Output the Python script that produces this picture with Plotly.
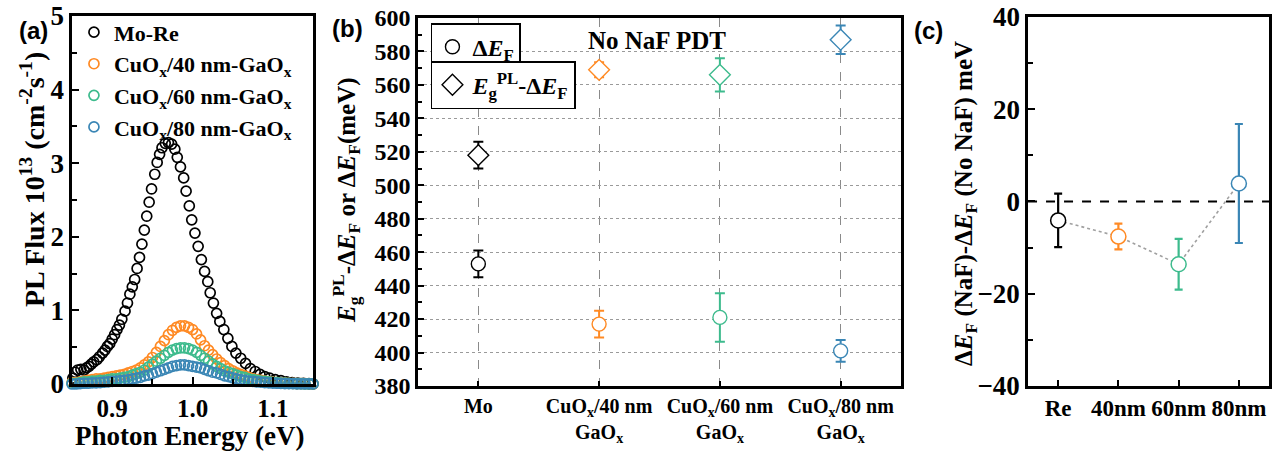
import plotly.graph_objects as go

# ---------------- Panel (a): PL spectra ----------------
moRe_E = [0.851, 0.854, 0.857, 0.861, 0.865, 0.868, 0.871, 0.874, 0.877, 0.881,
          0.884, 0.888, 0.891, 0.894, 0.897, 0.900, 0.903, 0.906, 0.909, 0.912,
          0.916, 0.919, 0.922, 0.925, 0.928, 0.931, 0.934, 0.937, 0.940, 0.943,
          0.946, 0.949, 0.953, 0.956, 0.959, 0.962, 0.966, 0.970, 0.974, 0.978,
          0.981, 0.985, 0.989, 0.992, 0.996, 0.999, 1.003, 1.007, 1.011, 1.015,
          1.019, 1.022, 1.026, 1.030, 1.034, 1.039, 1.044, 1.049, 1.054, 1.060,
          1.066, 1.072, 1.078, 1.084, 1.090, 1.096, 1.103, 1.110, 1.117, 1.124,
          1.131, 1.138, 1.145, 1.150]
moRe_PL = [0.08, 0.16, 0.19, 0.20, 0.19, 0.22, 0.24, 0.27, 0.30, 0.33,
           0.37, 0.42, 0.46, 0.51, 0.55, 0.61, 0.67, 0.74, 0.80, 0.88,
           0.99, 1.10, 1.22, 1.32, 1.42, 1.57, 1.72, 1.90, 2.09, 2.28,
           2.47, 2.65, 2.85, 3.01, 3.12, 3.21, 3.27, 3.28, 3.26, 3.19,
           3.08, 2.95, 2.80, 2.62, 2.42, 2.23, 2.05, 1.87, 1.69, 1.53,
           1.39, 1.24, 1.10, 0.96, 0.85, 0.74, 0.62, 0.51, 0.42, 0.35,
           0.28, 0.21, 0.17, 0.13, 0.10, 0.08, 0.06, 0.045, 0.03, 0.02,
           0.012, 0.008, 0.005, 0.003]

cu_E = [0.850, 0.855, 0.860, 0.865, 0.870, 0.875, 0.880, 0.885, 0.890, 0.895,
        0.900, 0.905, 0.910, 0.915, 0.920, 0.925, 0.930, 0.935, 0.940, 0.945,
        0.950, 0.955, 0.960, 0.965, 0.970, 0.975, 0.980, 0.985, 0.990, 0.995,
        1.000, 1.005, 1.010, 1.015, 1.020, 1.025, 1.030, 1.035, 1.040, 1.045,
        1.050, 1.055, 1.060, 1.065, 1.070, 1.075, 1.080, 1.085, 1.090, 1.095,
        1.100, 1.105, 1.110, 1.115, 1.120, 1.125, 1.130, 1.135, 1.140, 1.145,
        1.150]
cu40_PL = [0.02, 0.02, 0.03, 0.04, 0.05, 0.06, 0.07, 0.07, 0.08, 0.09,
           0.10, 0.11, 0.12, 0.13, 0.15, 0.17, 0.19, 0.22, 0.26, 0.30,
           0.36, 0.43, 0.51, 0.59, 0.67, 0.73, 0.77, 0.79, 0.79, 0.77,
           0.74, 0.68, 0.60, 0.52, 0.46, 0.40, 0.34, 0.29, 0.25, 0.21,
           0.18, 0.15, 0.13, 0.11, 0.09, 0.07, 0.06, 0.05, 0.04, 0.03,
           0.025, 0.02, 0.015, 0.012, 0.01, 0.008, 0.006, 0.005, 0.004, 0.003,
           0.002]
cu60_PL = [0.01, 0.01, 0.02, 0.03, 0.03, 0.04, 0.04, 0.05, 0.05, 0.06,
           0.07, 0.07, 0.08, 0.09, 0.10, 0.12, 0.14, 0.16, 0.19, 0.23,
           0.27, 0.31, 0.35, 0.39, 0.43, 0.46, 0.48, 0.49, 0.49, 0.48,
           0.46, 0.43, 0.39, 0.35, 0.31, 0.27, 0.24, 0.21, 0.18, 0.16,
           0.14, 0.12, 0.10, 0.09, 0.07, 0.06, 0.05, 0.04, 0.035, 0.03,
           0.022, 0.018, 0.014, 0.011, 0.009, 0.007, 0.005, 0.004, 0.003, 0.002,
           0.002]
cu80_PL = [0.00, 0.00, 0.005, 0.01, 0.01, 0.015, 0.015, 0.02, 0.025, 0.03,
           0.035, 0.04, 0.045, 0.05, 0.06, 0.07, 0.08, 0.09, 0.11, 0.12,
           0.14, 0.16, 0.18, 0.20, 0.22, 0.24, 0.25, 0.26, 0.26, 0.25,
           0.24, 0.23, 0.22, 0.20, 0.18, 0.16, 0.15, 0.13, 0.11, 0.10,
           0.085, 0.07, 0.06, 0.05, 0.04, 0.035, 0.03, 0.025, 0.02, 0.015,
           0.012, 0.01, 0.008, 0.006, 0.005, 0.004, 0.003, 0.002, 0.002, 0.001,
           0.001]
a_names = ["Mo-Re", "CuO<sub>x</sub>/40 nm-GaO<sub>x</sub>",
           "CuO<sub>x</sub>/60 nm-GaO<sub>x</sub>", "CuO<sub>x</sub>/80 nm-GaO<sub>x</sub>"]

# ---------------- Panel (b) ----------------
b_cats = ["Mo", "CuO<sub>x</sub>/40 nm<br>GaO<sub>x</sub>",
          "CuO<sub>x</sub>/60 nm<br>GaO<sub>x</sub>", "CuO<sub>x</sub>/80 nm<br>GaO<sub>x</sub>"]
dEF = [453, 417, 421, 401]
dEF_err = [8, 8, 14.5, 6.5]
Eg_dEF = [518, 569, 566, 587]
Eg_dEF_err = [8, 4.5, 10, 8.5]

# ---------------- Panel (c) ----------------
c_cats = ["Re", "40nm", "60nm", "80nm"]
ddEF = [-4.1, -7.6, -13.6, 3.9]
ddEF_err = [5.8, 2.8, 5.5, 12.9]

colors = ["#000000", "#ff8a24", "#3dbb8d", "#3a86b5"]

SERIF = "Liberation Serif"
SANS = "Liberation Sans"

fig = go.Figure()

# Panel (a) traces
a_y = [moRe_PL, cu40_PL, cu60_PL, cu80_PL]
a_x = [moRe_E, cu_E, cu_E, cu_E]
for i in range(4):
    fig.add_trace(go.Scatter(
        x=a_x[i], y=a_y[i], mode="markers", name=a_names[i],
        marker=dict(symbol="circle-open", size=10, color=colors[i], line=dict(width=1.7)),
        cliponaxis=False, xaxis="x", yaxis="y", legend="legend"))

# Panel (b) traces
for i in range(4):
    fig.add_trace(go.Scatter(
        x=[b_cats[i]], y=[dEF[i]], mode="markers", showlegend=False,
        error_y=dict(type="data", array=[dEF_err[i]], color=colors[i], thickness=2, width=5),
        marker=dict(symbol="circle", size=14, color="white", line=dict(width=1.4, color=colors[i])),
        xaxis="x2", yaxis="y2"))
    fig.add_trace(go.Scatter(
        x=[b_cats[i]], y=[Eg_dEF[i]], mode="markers", showlegend=False,
        error_y=dict(type="data", array=[Eg_dEF_err[i]], color=colors[i], thickness=2, width=5),
        marker=dict(symbol="diamond", size=16, color="white", line=dict(width=1.4, color=colors[i])),
        xaxis="x2", yaxis="y2"))
fig.add_trace(go.Scatter(
    x=[None], y=[None], mode="markers", name="Δ<i>E</i><sub>F</sub>",
    marker=dict(symbol="circle-open", size=14, color="black", line=dict(width=1.4)),
    xaxis="x2", yaxis="y2", legend="legend2"))
fig.add_trace(go.Scatter(
    x=[None], y=[None], mode="markers", name="<i>E</i><sub>g</sub><sup>PL</sup>-Δ<i>E</i><sub>F</sub>",
    marker=dict(symbol="diamond-open", size=16, color="black", line=dict(width=1.4)),
    xaxis="x2", yaxis="y2", legend="legend3"))

# Panel (c) traces
fig.add_trace(go.Scatter(
    x=c_cats, y=ddEF, mode="lines", showlegend=False,
    line=dict(color="#a0a0a0", width=1.6, dash="dot"), xaxis="x3", yaxis="y3"))
for i in range(4):
    fig.add_trace(go.Scatter(
        x=[c_cats[i]], y=[ddEF[i]], mode="markers", showlegend=False,
        error_y=dict(type="data", array=[ddEF_err[i]], color=colors[i], thickness=2.2, width=4),
        marker=dict(symbol="circle", size=15, color="white", line=dict(width=1.5, color=colors[i])),
        xaxis="x3", yaxis="y3"))

fig.add_shape(type="line", xref="x3 domain", yref="y3", x0=0, x1=1, y0=0, y1=0,
              line=dict(color="black", width=2.2, dash="dash"), layer="below")

axis_common = dict(showline=True, linewidth=2.5, linecolor="black", mirror=True,
                   ticks="inside", tickwidth=2, tickcolor="black", zeroline=False,
                   showgrid=False, automargin=False)

fig.update_layout(
    width=1275, height=453, margin=dict(l=0, r=0, t=0, b=0, autoexpand=False),
    paper_bgcolor="white", plot_bgcolor="white",
    font=dict(family=SERIF, color="black", weight="bold"),
    xaxis=dict(domain=[0.0565, 0.2455], range=[0.85, 1.15], anchor="y",
               tickvals=[0.9, 1.0, 1.1], ticktext=["0.9", "1.0", "1.1"], ticklen=7,
               ticklabelstandoff=0,
               minor=dict(tickvals=[0.95, 1.05], ticklen=5, tickwidth=2, ticks="inside"),
               tickfont=dict(family=SERIF, size=25, weight="bold"), **axis_common),
    yaxis=dict(domain=[0.1523, 0.9647], range=[0, 5], anchor="x", dtick=1, ticklen=7,
               minor=dict(dtick=0.5, ticklen=5, tickwidth=2, ticks="inside"),
               tickfont=dict(family=SERIF, size=27, weight="bold"), **axis_common),
    xaxis2=dict(domain=[0.3278, 0.7067], range=[-0.5, 3.5], anchor="y2", type="category",
                categoryorder="array", categoryarray=b_cats, ticklen=5, automargin=False,
                tickfont=dict(family=SERIF, size=20, weight="bold"),
                showline=True, linewidth=2.5, linecolor="black", mirror=True,
                ticks="inside", tickwidth=2, tickcolor="black", zeroline=False,
                showgrid=True, gridcolor="#8a8a8a", gridwidth=1.2, griddash="dash"),
    yaxis2=dict(domain=[0.1479, 0.9603], range=[380, 600], anchor="x2", dtick=20, ticklen=6,
                automargin=False,
                minor=dict(dtick=10, ticklen=4, tickwidth=2, ticks="inside", showgrid=False),
                tickfont=dict(family=SERIF, size=24, weight="bold"),
                showline=True, linewidth=2.5, linecolor="black", mirror=True,
                ticks="inside", tickwidth=2, tickcolor="black", zeroline=False,
                showgrid=True, gridcolor="#9a9a9a", gridwidth=1.2, griddash="dot"),
    xaxis3=dict(domain=[0.8063, 0.9953], range=[-0.5, 3.5], anchor="y3", type="category",
                categoryorder="array", categoryarray=c_cats, ticklen=6,
                tickfont=dict(family=SERIF, size=23, weight="bold"), **axis_common),
    yaxis3=dict(domain=[0.1479, 0.9625], range=[-40, 40], anchor="x3", dtick=20, ticklen=7,
                minor=dict(dtick=10, ticklen=5, tickwidth=2, ticks="inside"),
                tickfont=dict(family=SERIF, size=27, weight="bold"), **axis_common),
    legend=dict(x=0.058, y=0.975, xanchor="left", yanchor="top", bgcolor="rgba(0,0,0,0)",
                borderwidth=0, font=dict(family=SERIF, size=22, weight="bold"),
                tracegroupgap=0, itemsizing="trace"),
    legend2=dict(x=0.338, y=0.949, xanchor="left", yanchor="top", bgcolor="white",
                 bordercolor="black", borderwidth=1.5,
                 font=dict(family=SERIF, size=24, weight="bold")),
    legend3=dict(x=0.338, y=0.865, xanchor="left", yanchor="top", bgcolor="white",
                 bordercolor="black", borderwidth=1.5,
                 font=dict(family=SERIF, size=24, weight="bold")),
)

ann = [
    dict(text="(a)", x=0.0133, y=0.9316, font=dict(family=SANS, size=24, weight="bold"),
         xanchor="left", yanchor="middle"),
    dict(text="(b)", x=0.2588, y=0.938, font=dict(family=SANS, size=24, weight="bold"),
         xanchor="left", yanchor="middle"),
    dict(text="(c)", x=0.7153, y=0.9316, font=dict(family=SANS, size=24, weight="bold"),
         xanchor="left", yanchor="middle"),
    dict(text="PL Flux 10<sup>13</sup> (cm<sup>-2</sup>s<sup>-1</sup>)", x=0.0251, y=0.6026,
         textangle=-90, font=dict(family=SERIF, size=28, weight="bold"),
         xanchor="center", yanchor="middle"),
    dict(text="Photon Energy (eV)", x=0.149, y=0.0,
         font=dict(family=SERIF, size=27, weight="bold"), xanchor="center", yanchor="bottom"),
    dict(text="<i>E</i><sub>g</sub><sup>PL</sup>-Δ<i>E</i><sub>F</sub> or Δ<i>E</i><sub>F</sub>(meV)",
         x=0.2714, y=0.5585, textangle=-90, font=dict(family=SERIF, size=25, weight="bold"),
         xanchor="center", yanchor="middle"),
    dict(text="Δ<i>E</i><sub>F</sub> (NaF)-Δ<i>E</i><sub>F</sub> (No NaF) meV",
         x=0.7576, y=0.5519, textangle=-90, font=dict(family=SERIF, size=25, weight="bold"),
         xanchor="center", yanchor="middle"),
    dict(text="No NaF PDT", x=0.5153, y=0.9095, font=dict(family=SERIF, size=25, weight="bold"),
         xanchor="center", yanchor="middle"),
]
for a in ann:
    a.update(xref="paper", yref="paper", showarrow=False)
fig.update_layout(annotations=ann)

fig.write_html("out.html")
